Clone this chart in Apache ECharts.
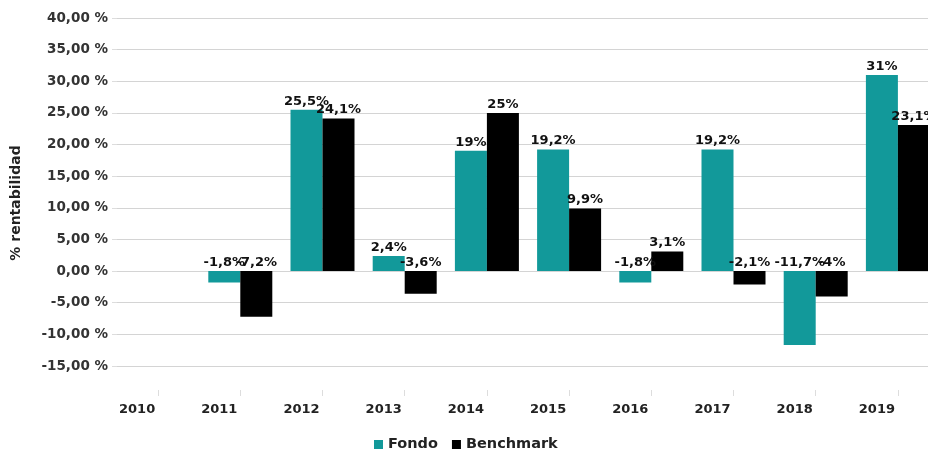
<!DOCTYPE html>
<html>
<head>
<meta charset="utf-8">
<script src="https://cdn.jsdelivr.net/npm/echarts@6/dist/echarts.min.js"></script>
<style>
html,body{margin:0;padding:0;background:#fff;overflow:hidden;}
#wrap{width:928px;height:452px;overflow:hidden;}
#c{width:939px;height:452px;}
</style>
</head>
<body>
<div id="wrap"><div id="c"></div></div>
<script>
var years = ['2010','2011','2012','2013','2014','2015','2016','2017','2018','2019'];
var fondo = [null, -1.8, 25.5, 2.4, 19, 19.2, -1.8, 19.2, -11.7, 31];
var benchmark = [null, -7.2, 24.1, -3.6, 25, 9.9, 3.1, -2.1, -4, 23.1];
var seriesNames = ['Fondo', 'Benchmark'];
var yTitle = '% rentabilidad';

var FONT = '"DejaVu Sans", "Liberation Sans", Arial, sans-serif';
function pct(p) {
  if (p.value == null) return '';
  return String(p.value).replace('.', ',') + '%';
}
var labelCfg = {
  show: true, position: 'top', distance: 2,
  color: '#111', fontFamily: FONT, fontWeight: 'bold', fontSize: 13,
  formatter: pct
};
var chart = echarts.init(document.getElementById('c'));
chart.setOption({
  animation: false,
  backgroundColor: '#fff',
  textStyle: { fontFamily: FONT },
  grid: { left: 117, top: 18, right: 0, bottom: 86, containLabel: false },
  legend: {
    data: seriesNames, top: 437, left: 374, padding: 0,
    itemWidth: 9, itemHeight: 9, itemGap: 14,
    icon: 'rect',
    textStyle: { fontFamily: FONT, fontWeight: 'bold', fontSize: 14.5, color: '#222' }
  },
  xAxis: {
    type: 'category', data: years,
    offset: 24,
    axisLine: { show: false, onZero: false },
    axisTick: { show: true, alignWithLabel: true, length: 6, lineStyle: { color: '#ddd' } },
    axisLabel: { margin: 13, fontFamily: FONT, fontWeight: 'bold', fontSize: 13, color: '#222', padding: [0, 42, 0, 0] },
    splitLine: { show: false }
  },
  yAxis: {
    type: 'value', min: -15, max: 40, interval: 5,
    name: yTitle, nameLocation: 'middle', nameGap: 94, nameRotate: 90,
    nameTextStyle: { fontFamily: FONT, fontWeight: 'bold', fontSize: 14, color: '#222', padding: [0, 0, 0, -22] },
    axisLine: { show: false },
    axisTick: { show: true, length: 5, lineStyle: { color: '#ddd' } },
    axisLabel: { margin: 9, fontFamily: FONT, fontWeight: 'bold', fontSize: 13.5, color: '#333',
      formatter: function (v) { return v.toFixed(2).replace('.', ',') + ' %'; } },
    splitLine: { lineStyle: { color: '#d4d4d4', width: 1 } }
  },
  series: [
    { name: seriesNames[0], type: 'bar', data: fondo, barWidth: 32, barGap: '0%',
      itemStyle: { color: '#12999a' }, label: labelCfg },
    { name: seriesNames[1], type: 'bar', data: benchmark, barWidth: 32, barGap: '0%',
      itemStyle: { color: '#000' }, label: labelCfg }
  ]
});
</script>
</body>
</html>
